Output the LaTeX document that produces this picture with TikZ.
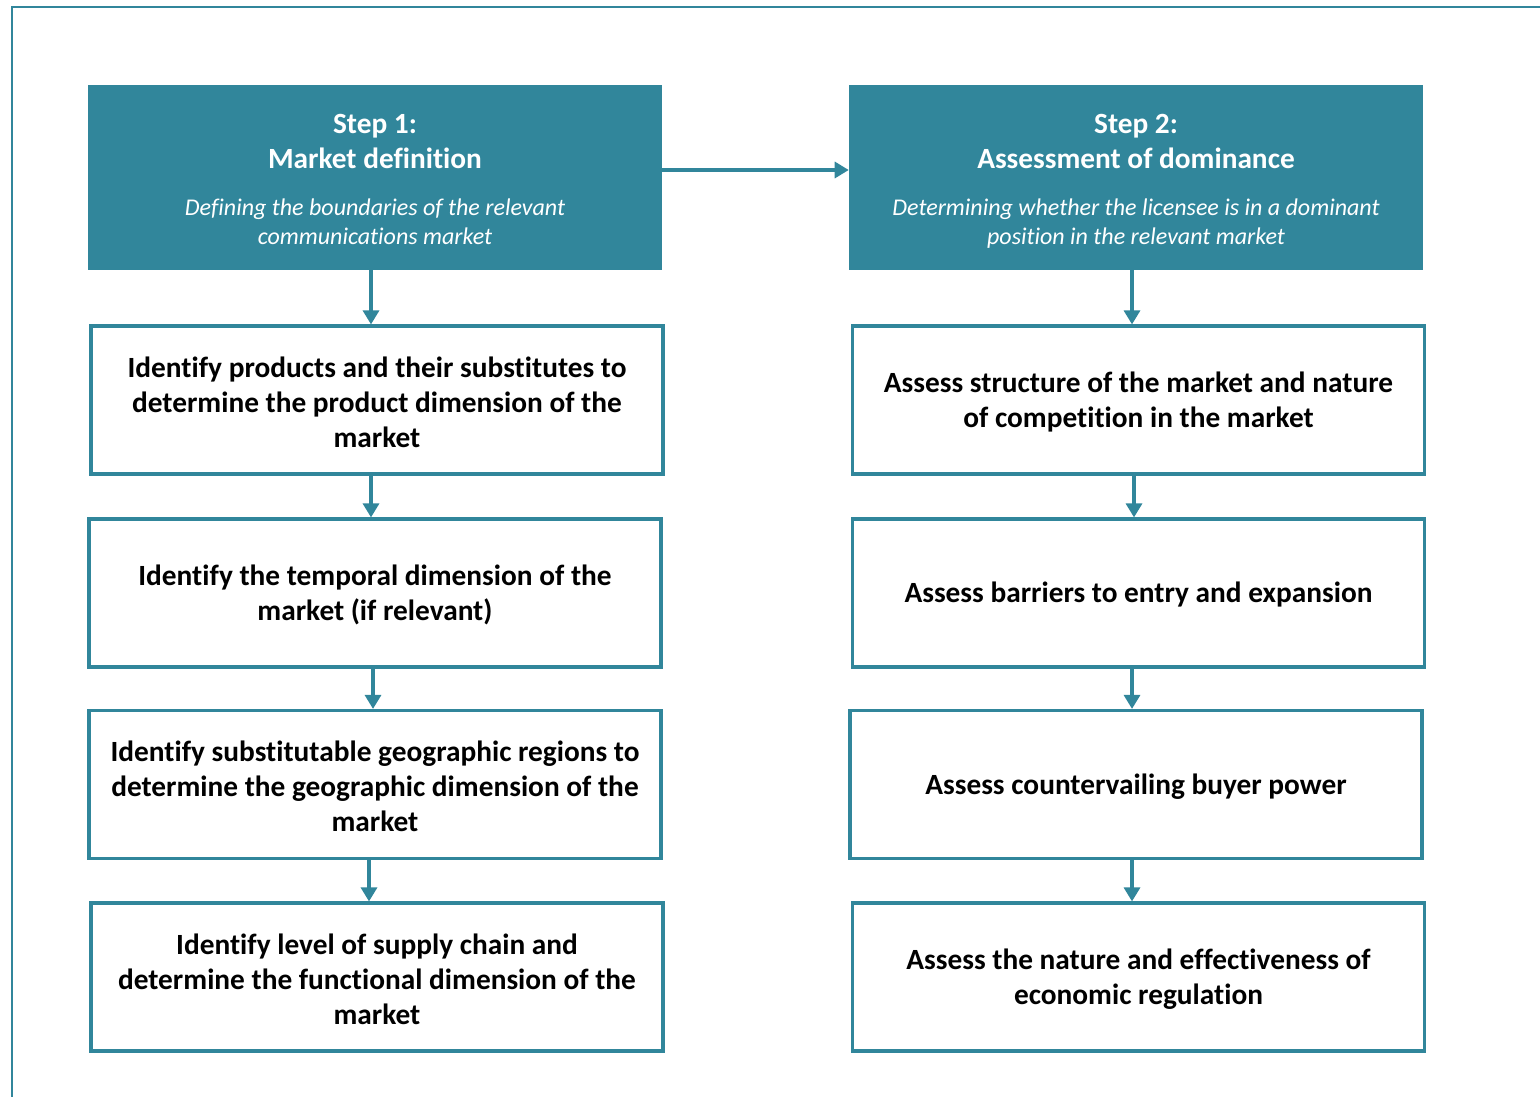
\documentclass[tikz,border=0pt]{standalone}
\usepackage{fontspec}
\setmainfont{Carlito}[Ligatures={NoCommon}]
\usetikzlibrary{arrows.meta}
\definecolor{tealc}{HTML}{31869B}
\newcommand{\lowtext}[2]{\raisebox{-1.5pt}[\height][\depth]{\parbox{#1}{\centering #2}}}
\begin{document}
\begin{tikzpicture}[x=0.75pt,y=-0.75pt,
  header/.style={fill=tealc, draw=none, minimum width=430.5pt, minimum height=138.75pt, inner sep=0pt},
  htitle/.style={text=white, align=center, font=\bfseries\fontsize{22}{26.25}\selectfont, inner sep=0pt},
  hsub/.style={text=white, align=center, font=\itshape\fontsize{18}{21.75}\selectfont, inner sep=0pt},
  stepbox/.style={draw=tealc, line width=2.4pt, fill=white, minimum width=429pt, minimum height=111pt, inner sep=0pt, align=center, font=\bfseries\fontsize{22}{26.25}\selectfont},
  conn/.style={draw=tealc, line width=2.4pt, -{Triangle[length=10.5pt,width=12pt]}}
]
\useasboundingbox (0,0) rectangle (1540,1096);
% frame
\draw[tealc, line width=1.6pt] (12,1100) -- (12,7) -- (1545,7);
% headers
\node[header] (h1) at (375,177.5) {};
\node[header] (h2) at (1136,177.5) {};
\node[htitle] (t1) at (375,141) {Step 1:\\Market definition};
\node[hsub] (s1) at (375,221.5) {Defining the boundaries of the relevant\\communications market};
\node[htitle] (t2) at (1136,141) {Step 2:\\Assessment of dominance};
\node[hsub] (s2) at (1136,224) {Determining whether the licensee is in a dominant\\position in the relevant market};
% left boxes
\node[stepbox] (l1) at (377,400) {\lowtext{420pt}{Identify products and their substitutes to\\determine the product dimension of the\\market}};
\node[stepbox] (l2) at (375,593) {\lowtext{420pt}{Identify the temporal dimension of the\\market (if relevant)}};
\node[stepbox] (l3) at (375,784.5) {\lowtext{420pt}{Identify substitutable geographic regions to\\determine the geographic dimension of the\\market}};
\node[stepbox] (l4) at (377,977) {\lowtext{420pt}{Identify level of supply chain and\\determine the functional dimension of the\\market}};
% right boxes
\node[stepbox] (r1) at (1138.5,400) {\lowtext{420pt}{Assess structure of the market and nature\\of competition in the market}};
\node[stepbox] (r2) at (1138.5,593) {\lowtext{420pt}{Assess barriers to entry and expansion}};
\node[stepbox] (r3) at (1136,784.5) {\lowtext{420pt}{Assess countervailing buyer power}};
\node[stepbox] (r4) at (1138.5,977) {\lowtext{420pt}{Assess the nature and effectiveness of\\economic regulation}};
% connectors
\draw[conn] (h1.east |- 0,170) -- (h2.west |- 0,170);
\draw[conn] (h1.south -| 371,0) -- (l1.north -| 371,0);
\draw[conn] (l1.south -| 371,0) -- (l2.north -| 371,0);
\draw[conn] (l2.south -| 373,0) -- (l3.north -| 373,0);
\draw[conn] (l3.south -| 369,0) -- (l4.north -| 369,0);
\draw[conn] (h2.south -| 1132,0) -- (r1.north -| 1132,0);
\draw[conn] (r1.south -| 1134,0) -- (r2.north -| 1134,0);
\draw[conn] (r2.south -| 1132,0) -- (r3.north -| 1132,0);
\draw[conn] (r3.south -| 1132,0) -- (r4.north -| 1132,0);
\end{tikzpicture}
\end{document}
